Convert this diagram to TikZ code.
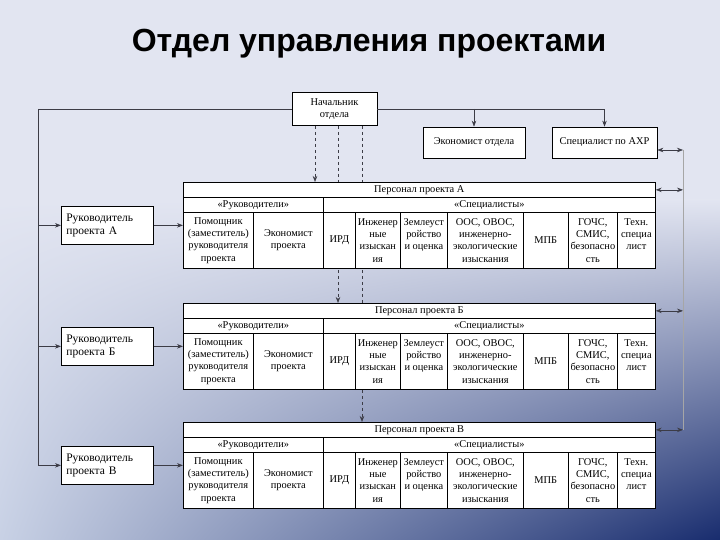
\documentclass[tikz,border=0pt]{standalone}
\usepackage{fontspec}
\setmainfont{Liberation Serif}
\newfontfamily\titlefont{Liberation Sans}
\usetikzlibrary{arrows.meta,positioning,calc,shadings}

\definecolor{bgtop}{RGB}{226,229,241}
\definecolor{bgleft}{RGB}{200,209,229}
\definecolor{bgnavy}{RGB}{24,44,110}
\definecolor{linegray}{RGB}{60,60,70}

\pgfdeclarelayer{bg}
\pgfdeclarelayer{lines}
\pgfsetlayers{bg,lines,main}

\begin{document}
\begin{tikzpicture}[
    x=1pt, y=-1pt,
    box/.style={draw=black, fill=white, line width=0.7pt, inner sep=0pt, align=center,
                font=\fontsize{10.4}{12.3}\selectfont},
    hdr/.style={box, minimum height=15pt, anchor=north west},
    cell/.style={box, minimum height=56pt, anchor=north west},
    lead/.style={box, minimum width=92pt, minimum height=38pt, text width=82pt, align=left,
                 anchor=north west, font=\fontsize{11.5}{12.5}\selectfont},
    conn/.style={line width=0.6pt, draw=linegray},
    arr/.style={conn, -{Stealth[length=6pt,width=4.5pt]}},
    darr/.style={conn, {Stealth[length=6pt,width=4.5pt]}-{Stealth[length=6pt,width=4.5pt]}},
]
\useasboundingbox (0,0) rectangle (720,540);

% Background
\begin{pgfonlayer}{bg}
\fill[bgtop] (0,0) rectangle (720,540);
\shade[upper left=bgtop, upper right=bgtop, lower left=bgleft, lower right=bgnavy]
    (0,200) rectangle (720,540);
\end{pgfonlayer}

% Title
\node[font=\titlefont\bfseries\fontsize{32}{36}\selectfont, anchor=base] (title) at (369,52)
    {Отдел управления проектами};

% Top boxes
\node[box, minimum width=85pt, minimum height=33pt] (boss) at (334.5,109) {Начальник\\отдела};
\node[box, minimum width=102pt, minimum height=31pt] (econ) at (474,142.5) {Экономист отдела};
\node[box, minimum width=105pt, minimum height=31pt] (axr) at (604.5,142.5) {Специалист по АХР};

% Project blocks
\foreach \p/\t/\l in {A/182/А, B/303/Б, C/422/В} {
    \node[hdr, minimum width=472pt] (pers\p) at (183,\t) {Персонал проекта \l};
    \node[hdr, minimum width=140pt] (ruk\p) at (183,\t+15) {«Руководители»};
    \node[hdr, minimum width=332pt] (spec\p) at (323,\t+15) {«Специалисты»};
    \foreach \x/\w/\txt [count=\i] in {
        183/70/{Помощник\\(заместитель)\\руководителя\\проекта},
        253/70/{Экономист\\проекта},
        323/32/{ИРД},
        355/45/{Инженер\\ные\\изыскан\\ия},
        400/47/{Землеуст\\ройство\\и оценка\\\mbox{}},
        447/76/{ООС, ОВОС,\\инженерно-\\экологические\\изыскания},
        523/45/{МПБ},
        568/49/{ГОЧС,\\СМИС,\\безопасно\\сть},
        617/38/{Техн.\\специа\\лист\\\mbox{}}} {
        \node[cell, minimum width=\w pt] (c\p\i) at (\x,\t+30) {\txt};
    }
    \node[lead] (lead\p) at (61,\t+24) {Руководитель\\проекта \l\\[2pt]};
    \draw[arr] (lead\p.east) -- (lead\p.east -| pers\p.west);
}

% Connectors
\coordinate (lbus) at (38,109);
\coordinate (rbus) at (683,150);
\draw[conn] (boss.west) -- (lbus);
\draw[arr] (lbus) |- (leadC.west);
\draw[arr] (lbus |- leadA.west) -- (leadA.west);
\draw[arr] (lbus |- leadB.west) -- (leadB.west);

\draw[arr] (boss.east) -| (axr.north);
\draw[arr] (boss.east -| econ.north) -- (econ.north);

\draw[conn, gray!70] (rbus) -- (rbus |- persC.east);
\draw[darr] (axr.east |- rbus) -- (rbus);
\foreach \p in {A,B,C}
    \draw[darr] (pers\p.east) -- (pers\p.east -| rbus);

% Dashed lines from the head of department
\begin{pgfonlayer}{lines}
\foreach \dx/\tgt in {-19.5/persA, 3.5/persB, 27.5/persC} {
    \path (boss.south) ++(\dx,0) coordinate (d\tgt);
    \draw[arr, dashed] (d\tgt) -- (d\tgt |- \tgt.north);
}
\end{pgfonlayer}
\end{tikzpicture}
\end{document}
